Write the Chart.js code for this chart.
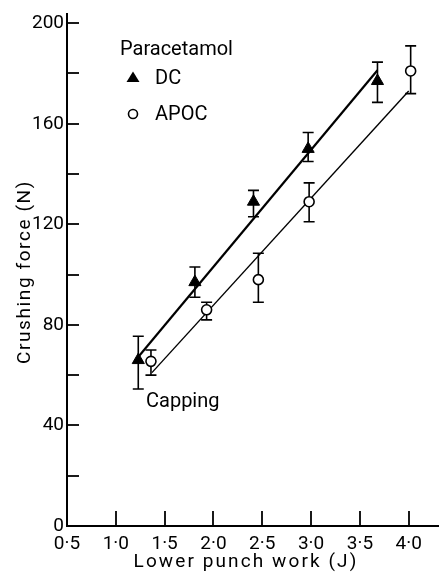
<!DOCTYPE html>
<html>
<head>
<meta charset="utf-8">
<script src="https://cdn.jsdelivr.net/npm/chart.js@4/dist/chart.umd.min.js"></script>
<style>
html,body{margin:0;padding:0;background:#fff;}
#c{display:block;}
</style>
</head>
<body>
<canvas id="c" width="446" height="573"></canvas>
<script>
// ---- data ----
const xDC   = [1.23, 1.81, 2.41, 2.97, 3.68];
const yDC   = [66, 97, 129, 150, 177];
const hiDC  = [75.5, 103, 133.5, 156.5, 184.5];
const loDC  = [54.5, 91, 123, 145, 168.5];

const xAPOC  = [1.36, 1.93, 2.46, 2.98, 4.02];
const yAPOC  = [65.5, 86, 98, 129, 181];
const hiAPOC = [70, 89, 108.5, 136.5, 191];
const loAPOC = [60, 82, 89, 121, 172];

const fitDCx   = [1.24, 3.68];
const fitDCy   = [67.7, 181.3];
const fitAPOCx = [1.37, 4.0];
const fitAPOCy = [61, 173];

const yTickLabels = [0, 40, 80, 120, 160, 200];
const xTickLabels = ['0·5','1·0','1·5','2·0','2·5','3·0','3·5','4·0'];

const FONT = "Roboto, 'DejaVu Sans', sans-serif";

function pts(xs, ys){ return xs.map((x,i)=>({x:x, y:ys[i]})); }

const errorBars = {
  id:'errorBars',
  beforeDatasetsDraw(chart){
    const ctx = chart.ctx, xs = chart.scales.x, ys = chart.scales.y;
    const sets = [[xDC,hiDC,loDC],[xAPOC,hiAPOC,loAPOC]];
    ctx.save();
    ctx.strokeStyle = '#000';
    ctx.lineWidth = 1.6;
    const cap = 5.5;
    sets.forEach(([xa,hi,lo])=>{
      xa.forEach((x,i)=>{
        const px = xs.getPixelForValue(x);
        const pt = ys.getPixelForValue(hi[i]);
        const pb = ys.getPixelForValue(lo[i]);
        ctx.beginPath();
        ctx.moveTo(px, pt); ctx.lineTo(px, pb);
        ctx.moveTo(px-cap, pt); ctx.lineTo(px+cap, pt);
        ctx.moveTo(px-cap, pb); ctx.lineTo(px+cap, pb);
        ctx.stroke();
      });
    });
    ctx.restore();
  }
};

const decorations = {
  id:'decorations',
  afterDraw(chart){
    const ctx = chart.ctx, xs = chart.scales.x, ys = chart.scales.y;
    const area = chart.chartArea;
    ctx.save();
    ctx.strokeStyle = '#000';
    ctx.lineWidth = 1.8;
    // inward tick marks
    ys.ticks.forEach(t=>{
      const p = Math.round(ys.getPixelForValue(t.value));
      ctx.beginPath(); ctx.moveTo(area.left, p); ctx.lineTo(area.left+12, p); ctx.stroke();
    });
    xs.ticks.forEach(t=>{
      const p = Math.round(xs.getPixelForValue(t.value));
      ctx.beginPath(); ctx.moveTo(p, area.bottom); ctx.lineTo(p, area.bottom-15); ctx.stroke();
    });
    // legend
    ctx.fillStyle = '#000';
    ctx.textBaseline = 'middle';
    ctx.textAlign = 'left';
    ctx.font = '20px ' + FONT;
    ctx.fillText('Paracetamol', 120, 50);
    ctx.fillText('DC', 155, 79);
    ctx.fillText('APOC', 155, 115);
    ctx.fillStyle = '#000';
    ctx.beginPath(); ctx.moveTo(133,71.5); ctx.lineTo(139.5,82); ctx.lineTo(126.5,82); ctx.closePath(); ctx.fill();
    ctx.fillStyle = '#fff'; ctx.lineWidth = 1.6;
    ctx.beginPath(); ctx.arc(133,114,4.5,0,Math.PI*2); ctx.fill(); ctx.stroke();
    // annotation
    ctx.fillStyle = '#000';
    ctx.fillText('Capping', 146, 402);
    // axis titles
    ctx.font = '19px ' + FONT;
    ctx.textAlign = 'center';
    try { ctx.letterSpacing = '2.1px'; } catch(e) {}
    ctx.fillText('Lower punch work (J)', 246, 562);
    ctx.save();
    ctx.translate(25, 272);
    ctx.rotate(-Math.PI/2);
    try { ctx.letterSpacing = '1.6px'; } catch(e) {}
    ctx.fillText('Crushing force (N)', 0, 0);
    ctx.restore();
    ctx.restore();
  }
};

new Chart(document.getElementById('c'), {
  type:'scatter',
  data:{
    datasets:[
      {label:'DC', data:pts(xDC,yDC), pointStyle:'triangle', pointRadius:7,
       backgroundColor:'#000', borderColor:'#000', borderWidth:1, showLine:false},
      {label:'APOC', data:pts(xAPOC,yAPOC), pointStyle:'circle', pointRadius:5,
       backgroundColor:'#fff', borderColor:'#000', borderWidth:1.6, showLine:false},
      {label:'DC fit', data:pts(fitDCx,fitDCy), showLine:true, pointRadius:0,
       borderColor:'#000', borderWidth:2.2, fill:false},
      {label:'APOC fit', data:pts(fitAPOCx,fitAPOCy), showLine:true, pointRadius:0,
       borderColor:'#000', borderWidth:1.4, fill:false}
    ]
  },
  options:{
    responsive:false,
    animation:false,
    layout:{padding:{top:12, right:1, left:0, bottom:0}},
    plugins:{legend:{display:false}, tooltip:{enabled:false}, title:{display:false}},
    scales:{
      x:{
        type:'linear', min:0.5, max:4.3,
        afterFit(s){ s.height = 47; },
        grid:{display:false, drawTicks:false},
        border:{display:true, color:'#000', width:2},
        title:{display:false},
        ticks:{stepSize:0.5, includeBounds:false, autoSkip:false, maxRotation:0,
          padding:7, color:'#000', font:{family:FONT, size:19},
          callback(v){ const i = Math.round((v-0.5)/0.5); return xTickLabels[i] ?? ''; }}
      },
      y:{
        type:'linear', min:0, max:203.5,
        afterFit(s){ s.width = 67; },
        grid:{display:false, drawTicks:false},
        border:{display:true, color:'#000', width:2},
        title:{display:false},
        ticks:{stepSize:20, includeBounds:false, autoSkip:false,
          padding:3, color:'#000', font:{family:FONT, size:19},
          callback(v){ return yTickLabels.includes(v) ? String(v) : ''; }}
      }
    }
  },
  plugins:[errorBars, decorations]
});
</script>
</body>
</html>
